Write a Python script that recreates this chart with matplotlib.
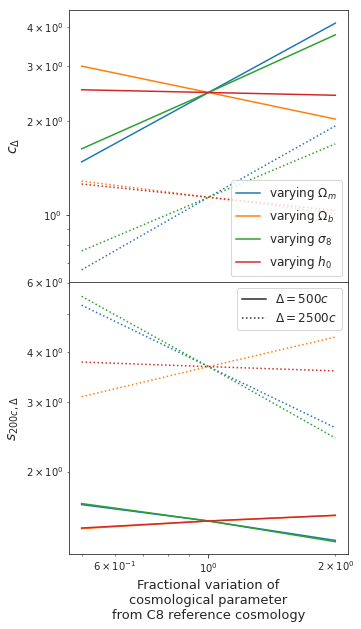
import matplotlib
matplotlib.use("Agg")
import matplotlib.pyplot as plt
from matplotlib.lines import Line2D

# fractional variation of each parameter
frac = [0.5, 1.0, 2.0]
params = [r"$\Omega_m$", r"$\Omega_b$", r"$\sigma_8$", r"$h_0$"]
colors = ["tab:blue", "tab:orange", "tab:green", "tab:red"]

# concentration c_Delta, Delta = 500c
c500 = [[1.48, 2.47, 4.12],
        [3.00, 2.47, 2.03],
        [1.63, 2.47, 3.78],
        [2.52, 2.47, 2.42]]
# Delta = 2500c
c2500 = [[0.667, 1.14, 1.93],
         [1.285, 1.14, 1.011],
         [0.767, 1.14, 1.69],
         [1.257, 1.14, 1.034]]

# sparsity s_{200c,Delta}
s500 = [[1.65, 1.50, 1.34],
        [1.435, 1.50, 1.55],
        [1.66, 1.50, 1.33],
        [1.44, 1.50, 1.55]]
s2500 = [[5.26, 3.68, 2.58],
         [3.09, 3.68, 4.37],
         [5.54, 3.68, 2.43],
         [3.78, 3.68, 3.59]]

plt.rcParams["text.color"] = "#262626"
plt.rcParams["axes.labelcolor"] = "#262626"
plt.rcParams["xtick.color"] = "#262626"
plt.rcParams["ytick.color"] = "#262626"
plt.rcParams["axes.edgecolor"] = "#262626"
plt.rcParams["xtick.labelsize"] = 10
plt.rcParams["ytick.labelsize"] = 10

fig = plt.figure(figsize=(361/72, 629/72), dpi=72)
ax1 = fig.add_axes([0.191, 0.5517, 0.773, 0.4324])
ax2 = fig.add_axes([0.191, 0.119, 0.773, 0.4327], sharex=ax1)

for i in range(4):
    ax1.plot(frac, c500[i], color=colors[i], lw=1.5, label="varying " + params[i])
    ax1.plot(frac, c2500[i], color=colors[i], lw=1.5, ls=":")
    ax2.plot(frac, s500[i], color=colors[i], lw=1.5)
    ax2.plot(frac, s2500[i], color=colors[i], lw=1.5, ls=":")

for ax in (ax1, ax2):
    ax.set_xscale("log")
    ax.set_yscale("log")

ax1.set_ylim(0.61, 4.54)
ax2.set_ylim(1.237, 6.02)
ax1.tick_params(axis="x", which="both", labelbottom=False)

ax1.set_ylabel(r"$c_\Delta$", fontsize=14)
ax2.set_ylabel(r"$s_{200c,\Delta}$", fontsize=14)
ax2.set_xlabel("Fractional variation of\ncosmological parameter\nfrom C8 reference cosmology", fontsize=13)

ax1.legend(loc="lower right", fontsize=12)
handles = [Line2D([], [], color="#262626", lw=1.5, ls="-"),
           Line2D([], [], color="#262626", lw=1.5, ls=":")]
ax2.legend(handles, [r"$\Delta = 500c$", r"$\Delta = 2500c$"], loc="upper right", fontsize=12)

fig.savefig("out.png", dpi=72)
